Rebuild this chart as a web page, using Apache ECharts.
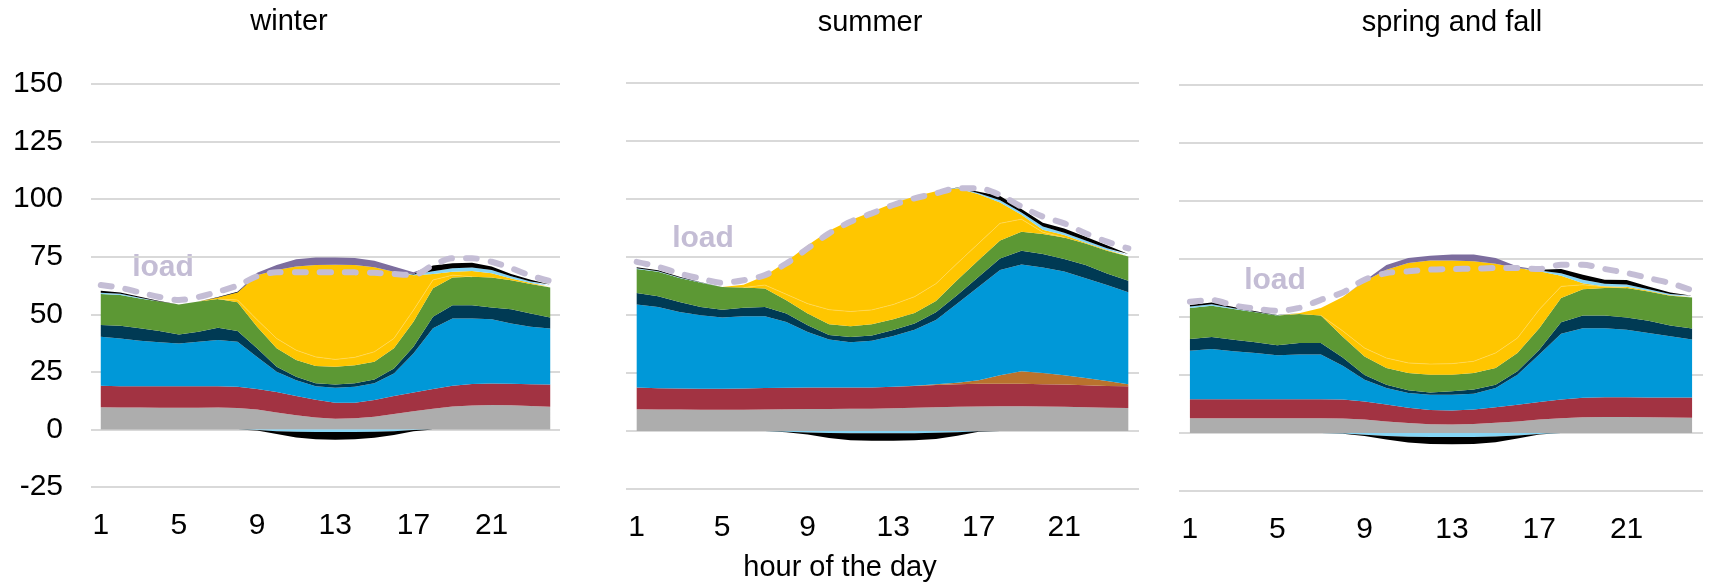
<!DOCTYPE html>
<html>
<head>
<meta charset="utf-8">
<script src="https://cdn.jsdelivr.net/npm/echarts@6/dist/echarts.min.js"></script>
<style>
  html, body { margin: 0; padding: 0; background: #fff; }
  #chart { width: 1710px; height: 584px; }
</style>
</head>
<body>
<div id="chart"></div>
<script>
// hours 1..24
const hours = Array.from({ length: 24 }, (_, i) => String(i + 1))
const yTicks = { min: -25, max: 150, step: 25 }

// ---- winter ----
const grayW   = [9.6, 9.5, 9.5, 9.4, 9.4, 9.4, 9.5, 9.3, 8.6, 7.4, 6.2, 5.2, 4.6, 4.8, 5.5, 6.7, 7.9, 9.0, 10.0, 10.4, 10.6, 10.5, 10.2, 9.9]
const redW    = [9.4, 9.3, 9.2, 9.3, 9.3, 9.3, 9.2, 9.2, 9.0, 8.8, 8.3, 7.7, 7.0, 6.8, 7.3, 7.8, 8.1, 8.6, 9.0, 9.3, 9.3, 9.3, 9.4, 9.6]
const brownW  = [0, 0, 0, 0, 0, 0, 0, 0, 0, 0, 0, 0, 0, 0, 0, 0, 0, 0, 0, 0, 0, 0, 0, 0]
const blueW   = [21.2, 20.7, 19.8, 19.2, 18.6, 19.4, 20.1, 19.6, 13.9, 8.8, 6.9, 5.9, 6.5, 6.9, 7.2, 9.8, 17.0, 26.3, 29.2, 28.5, 27.9, 26.2, 25.0, 24.3]
const navyW   = [5.1, 5.5, 5.4, 4.8, 3.9, 4.3, 5.4, 4.6, 3.7, 2.2, 1.5, 1.2, 1.4, 1.5, 1.7, 2.2, 2.9, 5.0, 5.7, 5.7, 5.2, 6.2, 5.7, 4.8]
const greenW  = [13.5, 13.4, 13.0, 12.8, 13.1, 13.1, 12.4, 12.5, 9.4, 8.0, 7.2, 7.5, 7.7, 7.9, 7.7, 8.7, 10.9, 12.4, 12.1, 12.4, 13.0, 12.6, 12.9, 13.0]
const solarAW = [null, null, null, null, null, null, 0, 1.0, 3.0, 4.3, 4.3, 4.0, 3.2, 3.4, 4.3, 4.3, 5.0, 3.6, 1.0, 0, null, null, null, null]
const solarBW = [0, 0, 0, 0, 0, 0, 0.7, 3.3, 19.4, 29.7, 36.3, 39.9, 41.1, 40.1, 36.7, 29.0, 15.2, 2.6, 1.5, 2.5, 1.8, 0.7, 0.4, 0.3]
const battW   = [0.6, 0.5, 0.3, 0.1, 0, 0, 0, 0, 0, 0, 0, 0, 0, 0, 0, 0, 0.3, 1.2, 1.5, 1.5, 1.4, 1.0, 0.6, 0.5]
const pumpW   = [0.8, 0.6, 0.4, 0.2, 0, 0, 0.2, 0.3, 0, 0, 0, 0, 0, 0, 0, 0, 0.2, 2.5, 2.2, 2.1, 1.5, 1.0, 0.8, 0.5]
const curtW   = [0, 0, 0, 0, 0, 0, 0, 0, 1.0, 2.2, 3.2, 3.3, 3.2, 3.0, 2.9, 2.2, 0.8, 0, 0, 0, 0, 0, 0, 0]
const battInW = [0, 0, 0, 0, 0, 0, 0, 0, -0.3, -0.8, -1.0, -1.1, -1.1, -1.1, -1.0, -0.8, -0.3, 0, 0, 0, 0, 0, 0, 0]
const pumpInW = [0, 0, 0, 0, 0, 0, 0, 0, -0.2, -1.2, -2.5, -3.2, -3.4, -3.2, -2.6, -1.6, -0.5, 0, 0, 0, 0, 0, 0, 0]
const loadW   = [62.7, 61.5, 59.5, 57.5, 56.2, 57.5, 59.8, 62.5, 66.5, 68.2, 68.2, 68.2, 68.2, 68.2, 68.0, 67.5, 67.0, 71.3, 74.3, 74.3, 72.8, 70.0, 66.8, 64.4]

// ---- summer ----
const grayS   = [9.4, 9.3, 9.3, 9.2, 9.2, 9.2, 9.3, 9.4, 9.5, 9.5, 9.6, 9.6, 9.8, 10.0, 10.2, 10.4, 10.6, 10.7, 10.7, 10.6, 10.4, 10.2, 10.0, 9.9]
const redS    = [9.3, 9.1, 9.0, 9.0, 9.0, 9.1, 9.2, 9.2, 9.2, 9.2, 9.2, 9.2, 9.3, 9.4, 9.6, 9.7, 9.8, 9.7, 9.7, 9.6, 9.6, 9.5, 9.4, 9.4]
const brownS  = [0, 0, 0, 0, 0, 0, 0, 0, 0, 0, 0, 0, 0, 0.1, 0.3, 0.7, 1.5, 3.6, 5.4, 4.8, 4.0, 3.1, 2.1, 0.9]
const blueS   = [35.8, 35.1, 33.0, 31.7, 30.7, 31.2, 31.0, 28.4, 24.0, 20.7, 19.5, 20.1, 21.9, 24.1, 27.7, 34.2, 40.3, 45.4, 46.0, 45.5, 44.7, 43.0, 41.4, 39.6]
const navyS   = [5.0, 4.6, 4.3, 3.6, 3.4, 3.6, 4.0, 3.6, 2.9, 2.0, 2.2, 2.3, 2.5, 2.7, 3.4, 3.6, 4.3, 5.0, 5.9, 5.8, 5.4, 5.7, 5.0, 5.0]
const greenS  = [10.3, 10.5, 10.4, 10.4, 9.8, 8.7, 7.9, 5.8, 5.0, 4.6, 4.7, 4.8, 4.7, 4.6, 4.8, 6.5, 7.2, 7.7, 8.2, 8.6, 9.3, 9.3, 9.8, 10.4]
const solarAS = [null, null, null, null, null, 0, 1.5, 2.5, 4.3, 6.3, 6.3, 6.2, 6.3, 7.0, 7.5, 7.2, 7.2, 7.4, 5.4, 0.8, 0, null, null, null]
const solarBS = [0, 0, 0, 0, 0, 1.2, 4.0, 14.0, 25.2, 34.0, 39.3, 42.3, 43.7, 43.2, 39.8, 32.3, 21.1, 9.0, 1.9, 1.0, 1.1, 0.3, 0.3, 0]
const battS   = [0.3, 0.3, 0.2, 0.1, 0, 0, 0, 0, 0, 0, 0, 0, 0, 0, 0, 0.2, 0.5, 1.0, 1.0, 1.4, 1.0, 1.0, 0.8, 0.6]
const pumpS   = [0.5, 0.4, 0.3, 0.1, 0, 0, 0, 0, 0, 0, 0, 0, 0, 0, 0, 0.2, 0.6, 1.8, 1.5, 1.7, 1.8, 1.6, 1.3, 0.5]
const curtS   = [0, 0, 0, 0, 0, 0, 0, 0, 0, 0, 0, 0, 0, 0, 0, 0, 0, 0, 0, 0, 0, 0, 0, 0]
const battInS = [0, 0, 0, 0, 0, 0, 0, -0.3, -0.6, -0.9, -1.0, -1.0, -1.0, -1.0, -0.8, -0.5, -0.1, 0, 0, 0, 0, 0, 0, 0]
const pumpInS = [0, 0, 0, 0, 0, 0, 0, -0.2, -0.9, -2.1, -3.0, -3.2, -3.2, -3.0, -2.7, -1.5, -0.2, 0, 0, 0, 0, 0, 0, 0]
const loadS   = [72.9, 70.8, 67.9, 65.7, 63.9, 65.0, 67.2, 72.2, 78.7, 85.2, 90.2, 93.8, 97.4, 100.3, 102.4, 104.6, 104.6, 101.7, 96.7, 92.4, 89.5, 85.2, 81.6, 78.7]

// ---- spring and fall ----
const grayF   = [6.4, 6.4, 6.4, 6.4, 6.4, 6.4, 6.4, 6.3, 5.8, 5.0, 4.3, 3.8, 3.7, 3.9, 4.4, 5.0, 5.8, 6.4, 6.8, 6.9, 6.9, 6.8, 6.7, 6.6]
const redF    = [8.2, 8.2, 8.2, 8.2, 8.2, 8.2, 8.2, 8.1, 7.8, 7.3, 6.6, 6.1, 6.0, 6.2, 6.7, 7.2, 7.6, 8.0, 8.4, 8.5, 8.5, 8.5, 8.6, 8.7]
const brownF  = [0, 0, 0, 0, 0, 0, 0, 0, 0, 0, 0, 0, 0, 0, 0, 0, 0, 0, 0, 0, 0, 0, 0, 0]
const blueF   = [20.9, 21.6, 20.6, 19.9, 18.9, 19.2, 19.2, 14.6, 9.4, 7.1, 6.3, 6.6, 6.8, 6.8, 8.3, 12.9, 20.4, 28.4, 30.0, 29.8, 29.1, 27.8, 26.4, 25.0]
const navyF   = [5.0, 5.2, 5.0, 4.6, 4.3, 5.0, 5.0, 3.5, 2.0, 1.4, 1.2, 1.0, 1.5, 1.8, 1.4, 1.5, 2.1, 4.9, 5.4, 5.4, 5.3, 5.3, 4.6, 4.7]
const greenF  = [13.4, 13.5, 13.2, 12.9, 12.9, 12.5, 11.9, 9.0, 8.0, 7.2, 7.5, 7.6, 7.1, 7.2, 7.2, 7.9, 9.3, 10.5, 11.4, 11.9, 12.7, 12.6, 12.9, 13.4]
const solarAF = [null, null, null, null, null, null, 0, 2.5, 3.6, 4.3, 4.3, 4.6, 4.8, 5.0, 6.5, 6.4, 8.0, 5.0, 1.9, 0.5, 0, null, null, null]
const solarBF = [0, 0, 0, 0, 0, 0.3, 3.2, 14.6, 28.8, 38.1, 43.1, 44.6, 44.5, 43.1, 38.5, 30.2, 16.5, 4.6, 0.7, 0.2, 0.5, 0.3, 0.2, 0.1]
const battF   = [0.6, 0.6, 0.4, 0.2, 0.1, 0, 0, 0, 0, 0, 0, 0, 0, 0, 0, 0, 0.3, 1.1, 1.5, 1.1, 1.0, 0.7, 0.5, 0.3]
const pumpF   = [0.7, 0.8, 0.5, 0.3, 0.1, 0, 0, 0, 0, 0, 0, 0, 0, 0, 0, 0, 0.4, 1.8, 2.1, 1.8, 1.9, 1.2, 0.7, 0.4]
const curtF   = [0, 0, 0, 0, 0, 0, 0, 0, 0.2, 2.0, 2.1, 2.1, 2.5, 2.9, 2.4, 0.7, 0, 0, 0, 0, 0, 0, 0, 0]
const battInF = [0, 0, 0, 0, 0, 0, 0, -0.2, -0.8, -1.3, -1.6, -1.7, -1.7, -1.7, -1.5, -1.1, -0.4, 0, 0, 0, 0, 0, 0, 0]
const pumpInF = [0, 0, 0, 0, 0, 0, 0, -0.1, -0.5, -1.5, -2.5, -3.0, -3.1, -3.0, -2.5, -1.3, -0.3, 0, 0, 0, 0, 0, 0, 0]
const loadF   = [56.6, 57.3, 55.0, 53.6, 52.7, 53.9, 57.4, 60.6, 66.1, 68.9, 69.7, 70.4, 70.7, 70.8, 71.1, 71.1, 70.7, 72.5, 72.5, 70.7, 69.0, 66.8, 64.6, 61.5]

const panelTitles = ['winter', 'summer', 'spring and fall']

const FONT = "'Liberation Sans', Arial, sans-serif"
const LOAD_COLOR = '#c4bdd5'

const seasons = [
  { gray: grayW, red: redW, brown: brownW, blue: blueW, navy: navyW, green: greenW, solarA: solarAW, solarB: solarBW, batt: battW, pump: pumpW, curt: curtW, battIn: battInW, pumpIn: pumpInW, load: loadW },
  { gray: grayS, red: redS, brown: brownS, blue: blueS, navy: navyS, green: greenS, solarA: solarAS, solarB: solarBS, batt: battS, pump: pumpS, curt: curtS, battIn: battInS, pumpIn: pumpInS, load: loadS },
  { gray: grayF, red: redF, brown: brownF, blue: blueF, navy: navyF, green: greenF, solarA: solarAF, solarB: solarBF, batt: battF, pump: pumpF, curt: curtF, battIn: battInF, pumpIn: pumpInF, load: loadF },
]

// stacking order, bottom to top
const layers = [
  { key: 'gray', color: '#adadad' },
  { key: 'red', color: '#a23342' },
  { key: 'brown', color: '#b9722d' },
  { key: 'blue', color: '#0098d8' },
  { key: 'navy', color: '#003a54' },
  { key: 'green', color: '#5c9834' },
  { key: 'solarA', color: '#ffc600', edge: '#ffd95a' },
  { key: 'solarB', color: '#ffc600' },
  { key: 'batt', color: '#85d5f5' },
  { key: 'pump', color: '#000000' },
  { key: 'curt', color: '#7c6d9e' },
]
const negLayers = [
  { key: 'battIn', color: '#85d5f5' },
  { key: 'pumpIn', color: '#000000' },
]

const grids = [
  { left: 91, top: 84, width: 469, height: 403 },
  { left: 626, top: 83, width: 513, height: 406 },
  { left: 1179, top: 85, width: 524, height: 406 },
]

const series = []
seasons.forEach((s, k) => {
  layers.forEach(l => {
    series.push({
      type: 'line',
      xAxisIndex: k,
      yAxisIndex: k,
      stack: 'pos' + k,
      symbol: 'none',
      data: s[l.key],
      areaStyle: { color: l.color, opacity: 1 },
      lineStyle: l.edge ? { width: 0.7, color: l.edge } : { width: 0 },
      z: l.edge ? 3 : 2,
      silent: true,
    })
  })
  negLayers.forEach(l => {
    series.push({
      type: 'line',
      xAxisIndex: k,
      yAxisIndex: k,
      stack: 'neg' + k,
      symbol: 'none',
      data: s[l.key],
      areaStyle: { color: l.color, opacity: 1 },
      lineStyle: { width: 0 },
      silent: true,
    })
  })
  series.push({
    type: 'line',
    xAxisIndex: k,
    yAxisIndex: k,
    symbol: 'none',
    smooth: 0.3,
    data: s.load,
    lineStyle: { color: LOAD_COLOR, width: 6, type: [11, 14], cap: 'round' },
    z: 6,
    silent: true,
  })
})

const option = {
  animation: false,
  textStyle: { fontFamily: FONT },
  grid: grids,
  xAxis: grids.map((g, k) => ({
    type: 'category',
    gridIndex: k,
    data: hours,
    position: 'bottom',
    axisLine: { show: false, onZero: false },
    axisTick: { show: false },
    axisLabel: { interval: 3, fontSize: 30, color: '#000', margin: 24, fontFamily: FONT },
    splitLine: { show: false },
  })),
  yAxis: grids.map((g, k) => ({
    type: 'value',
    gridIndex: k,
    min: yTicks.min,
    max: yTicks.max,
    interval: yTicks.step,
    axisLine: { show: false },
    axisTick: { show: false },
    axisLabel: { show: k === 0, fontSize: 30, color: '#000', margin: 28, fontFamily: FONT },
    splitLine: { lineStyle: { color: '#d9d9d9', width: 2 } },
  })),
  graphic: [
    ...panelTitles.map((t, k) => ({
      type: 'text',
      style: {
        text: t, x: [289, 870, 1452][k], y: [22, 23, 23][k],
        textAlign: 'center', align: 'center', textVerticalAlign: 'middle', verticalAlign: 'middle',
        fontSize: 29, fontFamily: FONT, fill: '#000',
      },
    })),
    ...[[163, 268], [703, 239], [1275, 281]].map(p => ({
      type: 'text',
      style: {
        text: 'load', x: p[0], y: p[1],
        textAlign: 'center', align: 'center', textVerticalAlign: 'middle', verticalAlign: 'middle',
        fontSize: 30, fontWeight: 'bold', fontFamily: FONT, fill: LOAD_COLOR,
      },
    })),
    {
      type: 'text',
      style: {
        text: 'hour of the day', x: 840, y: 568,
        textAlign: 'center', align: 'center', textVerticalAlign: 'middle', verticalAlign: 'middle',
        fontSize: 29, fontFamily: FONT, fill: '#000',
      },
    },
  ],
  series,
}

const chart = echarts.init(document.getElementById('chart'), null, { renderer: 'canvas' })
chart.setOption(option)
</script>
</body>
</html>
